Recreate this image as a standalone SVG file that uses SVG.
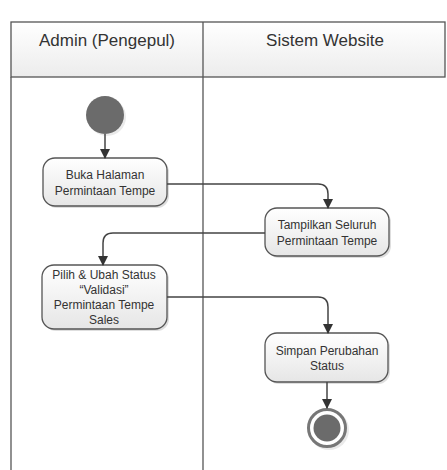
<svg xmlns="http://www.w3.org/2000/svg" width="447" height="470" viewBox="0 0 447 470">
<defs>
<linearGradient id="hdr" x1="0" y1="0" x2="0" y2="1"><stop offset="0" stop-color="#ffffff"/><stop offset="1" stop-color="#ececec"/></linearGradient>
<linearGradient id="nd" x1="0" y1="0" x2="0" y2="1"><stop offset="0" stop-color="#ffffff"/><stop offset="1" stop-color="#e6e6e6"/></linearGradient>
<marker id="arr" markerWidth="10" markerHeight="10" refX="9" refY="5" orient="auto" markerUnits="userSpaceOnUse"><path d="M0,0 L10,5 L0,10 Z" fill="#333"/></marker>
</defs>
<style>
.lane{fill:none;stroke:#555;stroke-width:1.3}
.hdr{fill:url(#hdr);stroke:#555;stroke-width:1.3}
.ht{font-family:"Liberation Sans",Arial,sans-serif;font-size:17px;fill:#333;text-anchor:middle}
.box{fill:url(#nd);stroke:#555;stroke-width:1.3}
.sh{fill:#c8c8c8;opacity:0.6}
.t{font-family:"Liberation Sans",Arial,sans-serif;font-size:12px;fill:#333;text-anchor:middle}
.c{fill:none;stroke:#444;stroke-width:1.5;marker-end:url(#arr)}
</style>
<rect width="447" height="470" fill="#fff"/>
<g id="lanes">
<rect class="hdr" x="11" y="22" width="434" height="55"/>
<line class="lane" x1="11" y1="77" x2="11" y2="470"/>
<line class="lane" x1="203" y1="22" x2="203" y2="470"/>
<text class="ht" x="107" y="46">Admin (Pengepul)</text>
<text class="ht" x="325" y="46">Sistem Website</text>
</g>
<g id="start">
<circle cx="107" cy="117" r="19" fill="#dcdcdc" opacity="0.6"/>
<circle cx="105" cy="115" r="19" fill="#6b6b6b"/>
</g>
<g id="n1">
<rect class="sh" x="45" y="160" width="124" height="48" rx="12"/>
<rect class="box" x="43" y="158" width="124" height="48" rx="12"/>
<text class="t" x="105" y="179">Buka Halaman</text>
<text class="t" x="105" y="195">Permintaan Tempe</text>
</g>
<g id="n2">
<rect class="sh" x="267" y="210" width="124" height="48" rx="12"/>
<rect class="box" x="265" y="208" width="124" height="48" rx="12"/>
<text class="t" x="327" y="229">Tampilkan Seluruh</text>
<text class="t" x="327" y="245">Permintaan Tempe</text>
</g>
<g id="n3">
<rect class="sh" x="44" y="267" width="125" height="64" rx="12"/>
<rect class="box" x="42" y="265" width="125" height="64" rx="12"/>
<text class="t" x="104" y="279">Pilih &amp; Ubah Status</text>
<text class="t" x="104" y="294">“Validasi”</text>
<text class="t" x="104" y="309">Permintaan Tempe</text>
<text class="t" x="104" y="324">Sales</text>
</g>
<g id="n4">
<rect class="sh" x="267" y="335" width="123" height="49" rx="12"/>
<rect class="box" x="265" y="333" width="123" height="49" rx="12"/>
<text class="t" x="327" y="355">Simpan Perubahan</text>
<text class="t" x="327" y="370">Status</text>
</g>
<g id="end">
<circle cx="329" cy="430" r="20" fill="#dcdcdc" opacity="0.6"/>
<circle cx="327" cy="428" r="18.5" fill="#fff" stroke="#777" stroke-width="3"/>
<circle cx="327" cy="428" r="13.5" fill="#6b6b6b"/>
</g>
<g id="connectors">
<path class="c" d="M105,134 V158"/>
<path class="c" d="M167,184 H318 Q328,184 328,194 V208"/>
<path class="c" d="M265,233 H113 Q103,233 103,243 V265"/>
<path class="c" d="M167,297 H318 Q328,297 328,307 V333"/>
<path class="c" d="M327,382 V408"/>
</g>
</svg>
